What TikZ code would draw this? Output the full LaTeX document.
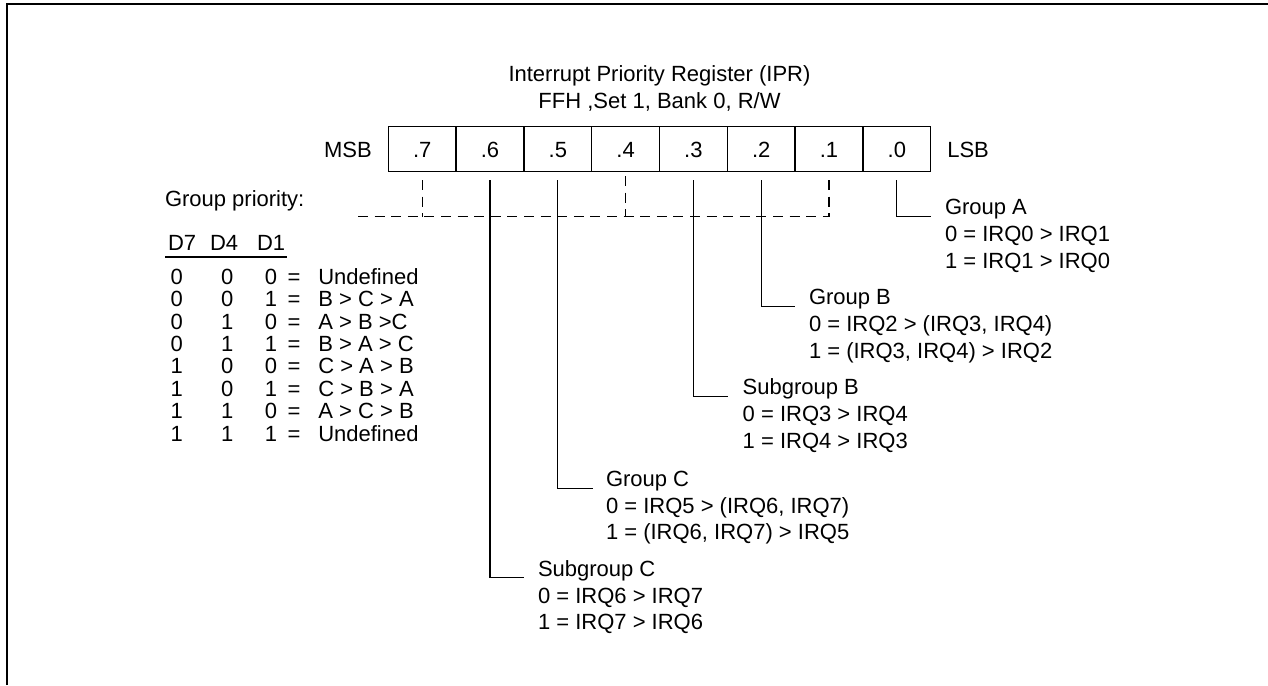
\documentclass[tikz,border=0pt]{standalone}
\usepackage{fontspec}
\setmainfont{Liberation Sans}
\begin{document}
\begin{tikzpicture}[x=0.5pt,y=-0.5pt,
  every node/.style={inner sep=0pt, outer sep=0pt, font=\fontsize{11}{13.33}\selectfont},
  txt/.style={anchor=base west},
  ctr/.style={anchor=base},
  cell/.style={draw, line width=0.65pt, minimum width=33.9pt, minimum height=22.5pt, anchor=center},
  conn/.style={line width=0.6pt},
  dconn/.style={line width=0.6pt, dash pattern=on 5pt off 3.3pt},
  frame/.style={line width=1pt}]
\useasboundingbox (0,0) rectangle (1268,685);
% frame
\coordinate (fbl) at (7,685);
\coordinate (ftl) at (7,4);
\coordinate (ftr) at (1268,4);
\draw[frame] (fbl) -- (ftl) -- (ftr);

% title
\node[ctr] (t1) at (659.5,81) {Interrupt Priority Register (IPR)};
\node[ctr] (t2) at (659.5,108) {FFH ,Set 1, Bank 0, R/W};

% register cells
\node[cell] (b7) at (422.2,149.2) {};
\node[cell] (b6) at (490.0,149.2) {};
\node[cell] (b5) at (557.8,149.2) {};
\node[cell] (b4) at (625.6,149.2) {};
\node[cell] (b3) at (693.4,149.2) {};
\node[cell] (b2) at (761.2,149.2) {};
\node[cell] (b1) at (829.0,149.2) {};
\node[cell] (b0) at (896.8,149.2) {};
\foreach \n/\t in {7/.7,6/.6,5/.5,4/.4,3/.3,2/.2,1/.1,0/.0}{
  \node[ctr] (l\n) at ([yshift=-3.9pt]b\n.center) {\t};
}
\node[anchor=base east] (msb) at (371.7,157) {MSB};
\node[anchor=base west] (lsb) at (947.3,157) {LSB};

% dashed group-priority lines
\coordinate (d7) at (422.2,180);
\coordinate (d4) at (625.6,176);
\coordinate (d1) at (829.0,180);
\coordinate (dl) at (358,216.7);
\draw[dconn] (d7) -- (d7 |- dl);
\draw[dconn] (d4) -- (d4 |- dl);
\draw[dconn] (d1) -- (d1 |- dl);
\draw[dconn] (dl) -- (dl -| d1);

% group priority table
\node[txt] (gp) at (165,206) {Group priority:};
\node[txt] (hD7) at (168,250) {D7};
\node[txt] (hD4) at (210,250) {D4};
\node[txt] (hD1) at (257,250) {D1};
\coordinate (ul1) at (165,257);
\coordinate (ul2) at (287,257);
\draw[conn] (ul1) -- (ul2);
\foreach \i/\a/\b/\c/\r in {0/0/0/0/Undefined,1/0/0/1/B > C > A,2/0/1/0/A > B >C,3/0/1/1/B > A > C,4/1/0/0/C > A > B,5/1/0/1/C > B > A,6/1/1/0/A > C > B,7/1/1/1/Undefined}{
  \pgfmathsetmacro{\yy}{284.5+22.37*\i}
  \node[ctr] (ra\i) at (176.7,\yy) {\a};
  \node[ctr] (rb\i) at (227.3,\yy) {\b};
  \node[ctr] (rc\i) at (271,\yy) {\c};
  \node[ctr] (re\i) at (294,\yy) {=};
  \node[txt] (rr\i) at (318.3,\yy) {\r};
}

% Group A (bit 0)
\coordinate (s0) at (896.8,180);
\coordinate (e0) at (930.7,216.7);
\draw[conn] (s0) |- (e0);
\node[txt] (gA1) at (945,214.5) {Group A};
\node[txt] (gA2) at (945,241) {0 = IRQ0 > IRQ1};
\node[txt] (gA3) at (945,268) {1 = IRQ1 > IRQ0};

% Group B (bit 2)
\coordinate (s2) at (761.2,180);
\coordinate (e2) at (795,306.7);
\draw[conn] (s2) |- (e2);
\node[txt] (gB1) at (809,304.5) {Group B};
\node[txt] (gB2) at (809,331) {0 = IRQ2 > (IRQ3, IRQ4)};
\node[txt] (gB3) at (809,358) {1 = (IRQ3, IRQ4) > IRQ2};

% Subgroup B (bit 3)
\coordinate (s3) at (693.4,180);
\coordinate (e3) at (728.3,396.7);
\draw[conn] (s3) |- (e3);
\node[txt] (sB1) at (742.7,394.5) {Subgroup B};
\node[txt] (sB2) at (742.7,421) {0 = IRQ3 > IRQ4};
\node[txt] (sB3) at (742.7,448) {1 = IRQ4 > IRQ3};

% Group C (bit 5)
\coordinate (s5) at (557.8,180);
\coordinate (e5) at (592.7,488.3);
\draw[conn] (s5) |- (e5);
\node[txt] (gC1) at (606,486) {Group C};
\node[txt] (gC2) at (606,513) {0 = IRQ5 > (IRQ6, IRQ7)};
\node[txt] (gC3) at (606,539.5) {1 = (IRQ6, IRQ7) > IRQ5};

% Subgroup C (bit 6)
\coordinate (s6) at (490.0,180);
\coordinate (e6) at (524.3,577.7);
\draw[conn] (s6) |- (e6);
\node[txt] (sC1) at (538,576) {Subgroup C};
\node[txt] (sC2) at (538,603) {0 = IRQ6 > IRQ7};
\node[txt] (sC3) at (538,629.5) {1 = IRQ7 > IRQ6};
\end{tikzpicture}
\end{document}
